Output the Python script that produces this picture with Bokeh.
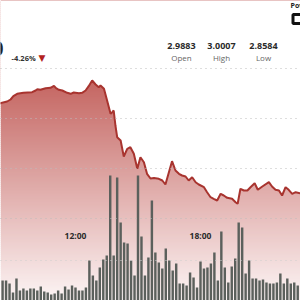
import numpy as np
from bokeh.plotting import figure
from bokeh.models import Range1d, Label, BoxAnnotation, Grid, FixedTicker
from bokeh.embed import file_html
from bokeh.resources import INLINE

# ---------------- data ----------------
price_times = ["08:20", "08:43", "08:53", "09:01", "09:12", "09:30", "09:55", "10:05", "10:10", "10:19",
               "10:34", "10:48", "10:58", "11:04", "11:12", "11:22", "11:36", "11:46", "11:55", "12:10",
               "12:19", "12:29", "12:38", "12:48", "12:58", "13:07", "13:12", "13:22", "13:31", "13:41",
               "13:46", "13:50", "13:55", "14:00", "14:10", "14:19", "14:29", "14:38", "14:48", "14:58",
               "15:07", "15:17", "15:26", "15:36", "15:46", "16:00", "16:10", "16:19", "16:29", "16:38",
               "16:48", "16:58", "17:07", "17:17", "17:26", "17:36", "17:46", "17:55", "18:10", "18:19",
               "18:29", "18:38", "18:48", "18:58", "19:07", "19:17", "19:31", "19:41", "19:47", "19:55",
               "20:05", "20:15", "20:24", "20:36", "20:45", "20:58", "21:17", "21:26", "21:36", "21:46",
               "21:55", "22:05", "22:14", "22:24", "22:34", "22:55"]
price_values = [2.9650, 2.9670, 2.9690, 2.9723, 2.9747, 2.9757, 2.9763, 2.9780, 2.9793, 2.9787,
                2.9803, 2.9807, 2.9827, 2.9803, 2.9787, 2.9780, 2.9757, 2.9747, 2.9760, 2.9753,
                2.9757, 2.9780, 2.9823, 2.9880, 2.9840, 2.9813, 2.9830, 2.9797, 2.9680, 2.9547,
                2.9563, 2.9580, 2.9430, 2.9313, 2.9280, 2.9120, 2.9197, 2.9213, 2.9147, 2.8997,
                2.9113, 2.9063, 2.8947, 2.8900, 2.8905, 2.8897, 2.8880, 2.8840, 2.8963, 2.9073,
                2.8980, 2.8947, 2.8930, 2.8920, 2.8880, 2.8913, 2.8863, 2.8840, 2.8813, 2.8763,
                2.8713, 2.8697, 2.8680, 2.8747, 2.8730, 2.8707, 2.8697, 2.8663, 2.8647, 2.8797,
                2.8780, 2.8780, 2.8813, 2.8853, 2.8787, 2.8820, 2.8863, 2.8820, 2.8787, 2.8780,
                2.8730, 2.8813, 2.8787, 2.8747, 2.8763, 2.8747]

volume_start = "08:30"          # 10-minute bars
volume_values = [200, 200, 170, 80, 220, 100, 120, 100, 120, 120, 100, 140, 90, 80, 60, 70,
                 100, 70, 140, 110, 150, 130, 100, 100, 130, 400, 250, 200, 330, 410, 450, 1250,
                 450, 1230, 780, 580, 570, 400, 250, 1250, 640, 250, 430, 1000, 480, 380, 320, 520,
                 400, 300, 370, 170, 170, 150, 280, 230, 130, 390, 320, 330, 370, 480, 200, 690,
                 330, 180, 340, 420, 780, 730, 270, 400, 220, 220, 200, 210, 180, 170, 170, 180,
                 270, 170, 220, 170, 180, 150, 150]

grid_prices = [3.00, 2.95, 2.90, 2.85]
grid_volumes = [400]
time_labels = ["12:00", "18:00"]
stat_values = ["2.9883", "3.0007", "2.8584"]
stat_names = ["Open", "High", "Low"]
change_text = "-4.26%"
last_price = "2.8610"

# ---------------- helpers ----------------
def hours(s):
    h, m = s.split(":")
    return int(h) + int(m) / 60.0

px = np.array([hours(t) for t in price_times])
py = np.array(price_values)
vx = hours(volume_start) + np.arange(len(volume_values)) / 6.0
vy = np.array(volume_values)

X0, X1 = 8.4, 22.8
Y0, Y1 = 2.768, 3.068

p = figure(width=300, height=300, output_backend="svg", toolbar_location=None,
           x_range=Range1d(X0, X1), y_range=Range1d(Y0, Y1),
           x_axis_type=None, y_axis_type=None, min_border=0,
           outline_line_color=None, background_fill_color="white")
p.extra_y_ranges = {"vol": Range1d(0, 3000)}

# gradient fill under the price line (horizontal bands, then white mask above line)
edges = np.linspace(Y0, Y1, 151)
top_c = np.array([196, 100, 96])
bot_c = np.array([252, 245, 245])
p_top = 2.99
bottoms, tops, cols = [], [], []
for a, b in zip(edges[:-1], edges[1:]):
    mid = (a + b) / 2
    t = np.clip((p_top - mid) / (p_top - Y0), 0, 1)
    c = top_c + (bot_c - top_c) * t
    bottoms.append(a)
    tops.append(b + 0.0004)
    cols.append("#%02x%02x%02x" % tuple(int(round(v)) for v in c))
p.quad(left=X0, right=X1, bottom=bottoms, top=tops, fill_color=cols, line_color=None)
p.varea(x=px, y1=py, y2=Y1, fill_color="white", fill_alpha=1.0)

# grids (fine dotted)
p.add_layout(Grid(dimension=1, ticker=FixedTicker(ticks=grid_prices),
                  grid_line_color="#bdbdbd", grid_line_dash="1 4", grid_line_width=1,
                  level="overlay"))
p.add_layout(Grid(dimension=1, ticker=FixedTicker(ticks=grid_volumes), y_range_name="vol",
                  grid_line_color="#cfcfcf", grid_line_dash="1 4", grid_line_width=1,
                  level="overlay"))

# volume bars
p.vbar(x=vx, top=vy, bottom=0, width=7 / 60.0, y_range_name="vol",
       fill_color="#5b605c", line_color=None)

# price line
p.line(px, py, line_color="#a8342f", line_width=2)

# time labels
for lab in time_labels:
    p.add_layout(Label(x=hours(lab), y=65, y_units="screen", text=lab,
                       text_font="Open Sans", text_font_size="8.5px", text_font_style="bold",
                       text_color="#2b2b2b", text_align="center", text_baseline="middle"))

# header
p.add_layout(Label(x=3, y=252, x_units="screen", y_units="screen", text=last_price,
                   text_font="Open Sans", text_font_size="22px", text_font_style="bold",
                   text_color="#222222", text_align="right", text_baseline="middle"))
p.add_layout(Label(x=11, y=243, x_units="screen", y_units="screen", text=change_text,
                   text_font="Open Sans", text_font_size="7.5px", text_font_style="bold",
                   text_color="#333333", text_align="left", text_baseline="middle"))
p.add_layout(Label(x=41.5, y=243, x_units="screen", y_units="screen", text="\u25bc",
                   text_font="DejaVu Sans", text_font_size="9px",
                   text_color="#b3231d", text_align="center", text_baseline="middle"))
for cx, v, n in zip([181, 221, 263], stat_values, stat_names):
    p.add_layout(Label(x=cx, y=255, x_units="screen", y_units="screen", text=v,
                       text_font="Open Sans", text_font_size="9px", text_font_style="bold",
                       text_color="#2a2a2a", text_align="center", text_baseline="middle"))
    p.add_layout(Label(x=cx, y=243, x_units="screen", y_units="screen", text=n,
                       text_font="Open Sans", text_font_size="8px",
                       text_color="#666666", text_align="center", text_baseline="middle"))
p.add_layout(Label(x=290, y=295, x_units="screen", y_units="screen", text="Powered by",
                   text_font="Open Sans", text_font_size="7px", text_font_style="bold",
                   text_color="#222222", text_align="left", text_baseline="middle"))
p.add_layout(BoxAnnotation(left=292.5, right=306, top=286, bottom=277,
                           left_units="screen", right_units="screen",
                           top_units="screen", bottom_units="screen",
                           fill_color="white", fill_alpha=1.0,
                           line_color="#111111", line_alpha=1.0, line_width=3))

open("out.html", "w").write(file_html(p, INLINE))
